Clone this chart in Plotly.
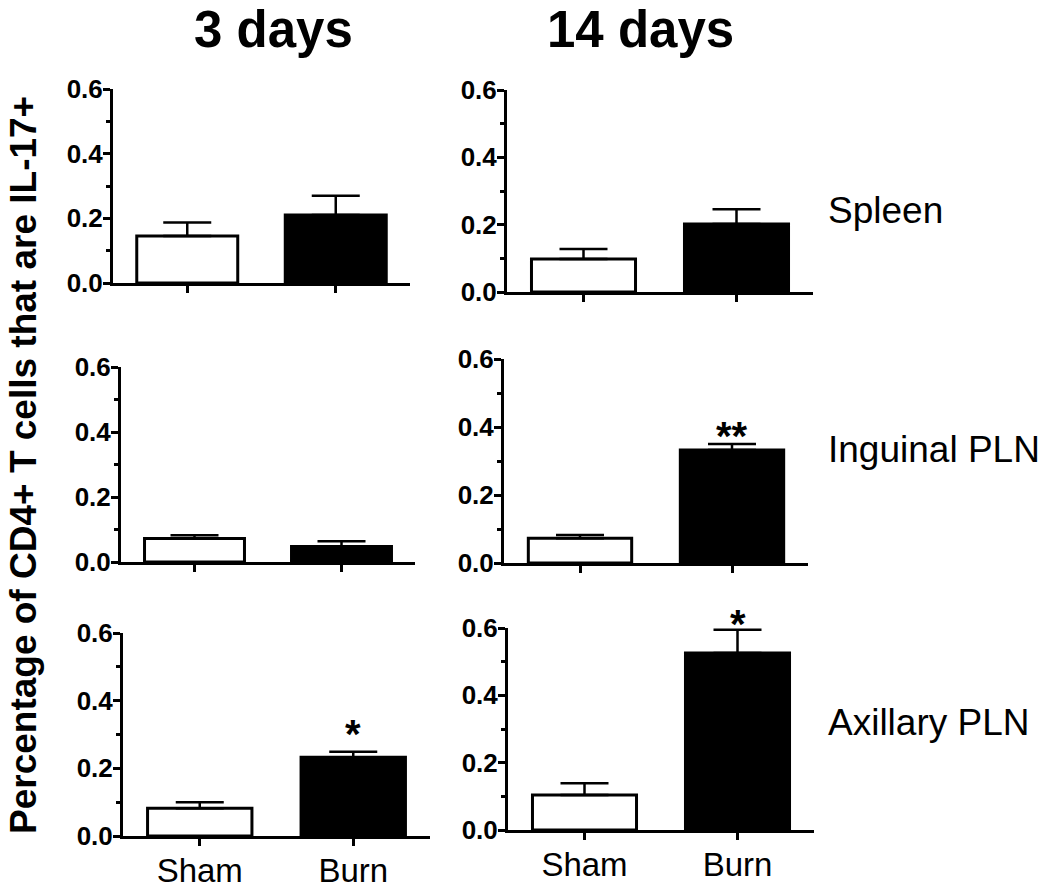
import plotly.graph_objects as go

# data
groups = ["Sham", "Burn"]
tissues = ["Spleen", "Inguinal PLN", "Axillary PLN"]
days = ["3 days", "14 days"]

day3_mean = [[0.145, 0.210], [0.072, 0.048], [0.082, 0.233]]
day3_err = [[0.042, 0.060], [0.010, 0.016], [0.018, 0.016]]
day3_star = [["", ""], ["", ""], ["", "*"]]

day14_mean = [[0.098, 0.202], [0.073, 0.332], [0.104, 0.526]]
day14_err = [[0.030, 0.044], [0.009, 0.018], [0.035, 0.069]]
day14_star = [["", ""], ["", "**"], ["", "*"]]

y_ticks = [0.0, 0.2, 0.4, 0.6]

# the page body has an 8px margin, so the figure starts at (8, 8)
OFF = 8
W, H = 1050 - OFF, 889 - OFF
FONT = "Liberation Sans, Arial, sans-serif"


def px_x(v):
    return (v - OFF) / W


def px_y(v):
    return 1 - (v - OFF) / H


# panel boxes in page pixels: (left, right, top, bottom), row-major
boxes = [
    (113, 410, 89, 283), (507, 813, 90, 292),
    (121, 415, 367, 562), (504, 808, 359, 563),
    (123, 430, 633, 836), (508, 814, 628, 830),
]

fig = go.Figure()
layout = dict(
    width=W, height=H,
    margin=dict(l=0, r=0, t=0, b=0),
    paper_bgcolor="white", plot_bgcolor="white",
    showlegend=False,
    annotations=[],
)

star_gap = [0, 0, 0, 6, 16, 4]

for i, (l, r, t, b) in enumerate(boxes):
    row, col = divmod(i, 2)
    mean = (day3_mean if col == 0 else day14_mean)[row]
    err = (day3_err if col == 0 else day14_err)[row]
    stars = (day3_star if col == 0 else day14_star)[row]
    n = i + 1
    xa = "x" if n == 1 else f"x{n}"
    ya = "y" if n == 1 else f"y{n}"

    fig.add_trace(go.Bar(
        x=groups, y=mean, xaxis=xa, yaxis=ya, width=0.68,
        marker=dict(color=["white", "black"], line=dict(color="black", width=3)),
        error_y=dict(type="data", symmetric=False, array=err, arrayminus=[0, 0],
                     color="black", thickness=2.5, width=24),
    ))

    layout[f"xaxis{n if n > 1 else ''}"] = dict(
        domain=[px_x(l), px_x(r)], anchor=ya, range=[-0.5, 1.5], automargin=False,
        showline=True, linecolor="black", linewidth=3, mirror=False,
        ticks="outside", ticklen=7, tickwidth=3, tickcolor="black",
        showgrid=False, zeroline=False, showticklabels=(row == 2),
        ticklabelstandoff=-4,
        tickfont=dict(family=FONT, size=33, color="black"),
    )
    layout[f"yaxis{n if n > 1 else ''}"] = dict(
        domain=[px_y(b), px_y(t)], anchor=xa, range=[0, 0.6], automargin=False,
        tickvals=y_ticks, tickformat=".1f",
        showline=True, linecolor="black", linewidth=3,
        ticks="outside", ticklen=7, tickwidth=3, tickcolor="black",
        minor=dict(ticks="outside", dtick=0.1, ticklen=4, tickwidth=3, tickcolor="black"),
        showgrid=False, zeroline=False, ticklabelstandoff=-5,
        tickfont=dict(family=FONT, size=26, color="black", weight="bold"),
    )

    for g, s, m, e in zip(groups, stars, mean, err):
        if s:
            layout["annotations"].append(dict(
                x=g, y=m + e, xref=xa, yref=ya, text=s, showarrow=False,
                yanchor="bottom", yshift=star_gap[i] - 22,
                font=dict(family=FONT, size=40, color="black", weight="bold"),
            ))

# column titles
for j, d in enumerate(days):
    cx = [273, 640][j]
    layout["annotations"].append(dict(
        x=px_x(cx), y=px_y(29), xref="paper", yref="paper", text=d,
        showarrow=False, xanchor="center", yanchor="middle",
        font=dict(family=FONT, size=51, color="black", weight="bold"),
    ))

# row labels
for k, name in enumerate(tissues):
    cy = [210, 449, 722][k]
    layout["annotations"].append(dict(
        x=px_x(826), y=px_y(cy), xref="paper", yref="paper", text=name,
        showarrow=False, xanchor="left", yanchor="middle",
        font=dict(family=FONT, size=37, color="black"),
    ))

# shared y title
layout["annotations"].append(dict(
    x=px_x(23), y=px_y(465), xref="paper", yref="paper",
    text="Percentage of CD4+ T cells that are IL-17+",
    showarrow=False, textangle=-90, xanchor="center", yanchor="middle",
    font=dict(family=FONT, size=37, color="black", weight="bold"),
))

fig.update_layout(layout)
fig.write_html("out.html")
